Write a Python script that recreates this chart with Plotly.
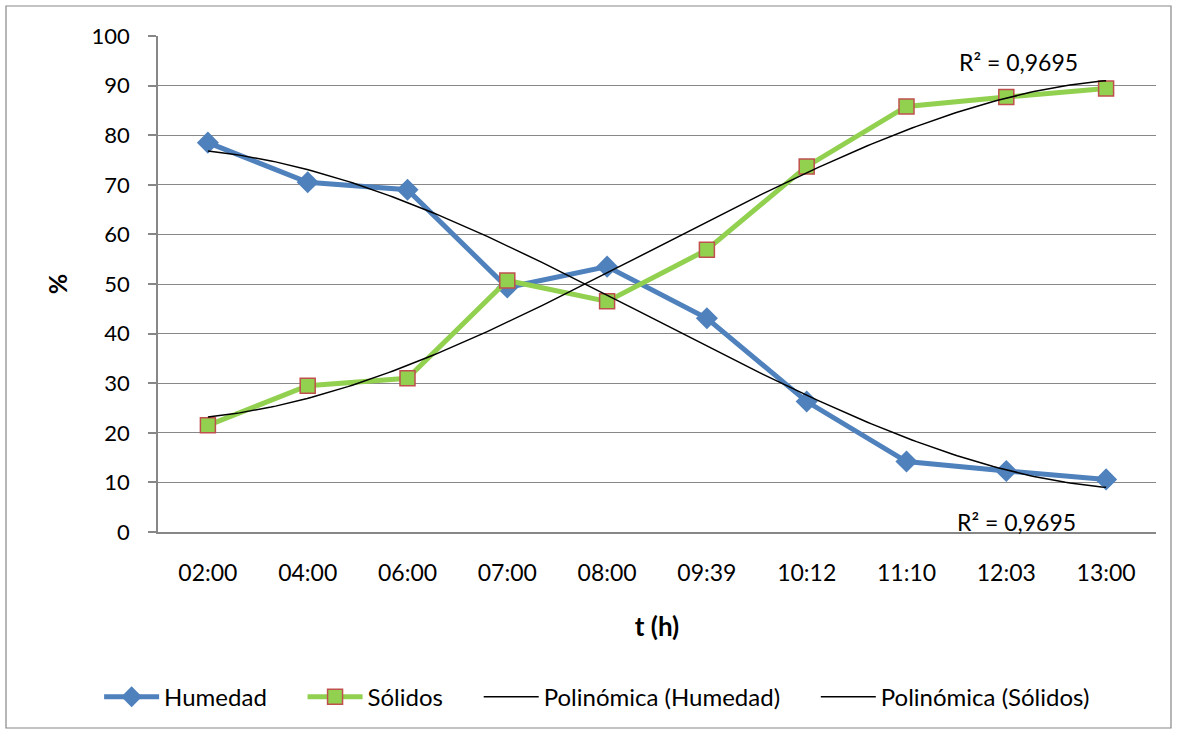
import numpy as np
import plotly.graph_objects as go

# Sampling times (category labels) and measured percentages
categorias = ["02:00", "04:00", "06:00", "07:00", "08:00", "09:39", "10:12", "11:10", "12:03", "13:00"]
humedad = [78.5, 70.5, 69.0, 49.3, 53.5, 43.1, 26.3, 14.2, 12.3, 10.6]
solidos = [21.5, 29.5, 31.0, 50.7, 46.5, 56.9, 73.7, 85.8, 87.7, 89.4]
r2_texto = "R² = 0,9695"
y_ticks = [0, 10, 20, 30, 40, 50, 60, 70, 80, 90, 100]

FONT = "Lato, Open Sans, sans-serif"
AZUL = "#4F81BD"
VERDE = "#92D050"
ROJO = "#C0504D"
GRIS = "#878787"
PAD = "\u00a0" * 5  # extra spacing between legend entries

x = np.arange(len(categorias))

# Cubic polynomial trendlines fitted on category index (1..n), as a spreadsheet does
xi = x + 1.0
xs = np.linspace(xi[0], xi[-1], 200)
coef_h = np.polyfit(xi, humedad, 3)
coef_s = np.polyfit(xi, solidos, 3)
trend_h = np.polyval(coef_h, xs)
trend_s = np.polyval(coef_s, xs)

fig = go.Figure()

fig.add_trace(go.Scatter(
    x=x, y=humedad, name="Humedad" + PAD, mode="lines+markers",
    line=dict(color=AZUL, width=5),
    marker=dict(symbol="diamond", size=17, color=AZUL, line=dict(width=0)),
))
fig.add_trace(go.Scatter(
    x=x, y=solidos, name="Sólidos" + PAD, mode="lines+markers",
    line=dict(color=VERDE, width=5),
    marker=dict(symbol="square", size=15, color=VERDE, line=dict(color=ROJO, width=1.5)),
))
fig.add_trace(go.Scatter(
    x=xs - 1, y=trend_h, name="Polinómica (Humedad)" + PAD, mode="lines",
    line=dict(color="black", width=1.5),
))
fig.add_trace(go.Scatter(
    x=xs - 1, y=trend_s, name="Polinómica (Sólidos)", mode="lines",
    line=dict(color="black", width=1.5),
))

# R² labels for both trendlines
fig.add_annotation(x=8.12, y=94.8, text=r2_texto, showarrow=False,
                   font=dict(family=FONT, size=23, color="black"))
fig.add_annotation(x=8.1, y=2.0, text=r2_texto, showarrow=False,
                   font=dict(family=FONT, size=23, color="black"))

# Outer chart frame
fig.add_shape(type="rect", xref="paper", yref="paper",
              x0=(6 - 158) / 998, x1=(1171 - 158) / 998,
              y0=-(728 - 532) / 496, y1=1 + (36 - 6) / 496,
              line=dict(color=GRIS, width=1.2), layer="below")

fig.update_layout(
    width=1177, height=734,
    margin=dict(l=158, r=21, t=36, b=202),
    paper_bgcolor="white", plot_bgcolor="white",
    font=dict(family=FONT, size=22, color="black"),
    showlegend=True,
    legend=dict(orientation="h", x=0.44, xanchor="center", y=-0.333, yanchor="middle",
                font=dict(family=FONT, size=24), itemwidth=55,
                traceorder="normal"),
)

fig.update_xaxes(
    range=[-0.5, len(categorias) - 0.5],
    tickmode="array", tickvals=list(x), ticktext=categorias,
    showgrid=False, zeroline=False,
    showline=True, linecolor=GRIS, linewidth=1.5,
    ticks="", ticklabelstandoff=20,
    tickfont=dict(family=FONT, size=23),
    title=dict(text="<b>t (h)</b>", font=dict(family=FONT, size=26), standoff=32),
)
fig.update_yaxes(
    range=[0, 100], tickmode="array", tickvals=y_ticks,
    showgrid=True, gridcolor=GRIS, gridwidth=1,
    zeroline=False,
    showline=True, linecolor=GRIS, linewidth=1.5,
    ticks="outside", ticklen=8, tickcolor=GRIS, tickwidth=1.5,
    ticklabelstandoff=14,
    tickfont=dict(family=FONT, size=22),
    title=dict(text="<b>%</b>", font=dict(family=FONT, size=25), standoff=17),
)

fig.write_html("out.html")
